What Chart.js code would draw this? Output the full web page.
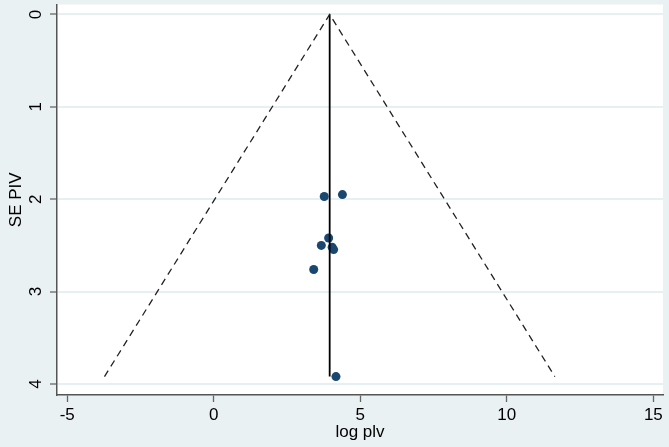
<!DOCTYPE html>
<html>
<head>
<meta charset="utf-8">
<script src="https://cdn.jsdelivr.net/npm/chart.js@4/dist/chart.umd.min.js"></script>
<style>
  html, body { margin: 0; padding: 0; background: #eaf1f3; }
  #wrap { width: 669px; height: 447px; }
</style>
</head>
<body>
<div id="wrap"><canvas id="c" width="669" height="447"></canvas></div>
<script>
// Study estimates (log plv) and their standard errors (SE PIV)
const logPlv = [3.77, 4.39, 3.92, 3.67, 4.04, 4.09, 3.41, 4.17];
const sePiv  = [1.97, 1.95, 2.42, 2.50, 2.52, 2.545, 2.76, 3.92];
// Pooled estimate line
const pooledX = [3.955, 3.955];
const pooledY = [0, 3.92];
// Pseudo 95% confidence limits (funnel)
const funnelX = [-3.73, 3.955, 11.64];
const funnelY = [3.92, 0, 3.92];
// Axis ticks
const xTicks = [-5, 0, 5, 10, 15];
const yTicks = [0, 1, 2, 3, 4];

const toPts = (xs, ys) => xs.map((x, i) => ({x: x, y: ys[i]}));

const plotBg = {
  id: 'plotBg',
  beforeDraw(chart) {
    const {ctx, chartArea: a} = chart;
    ctx.save();
    ctx.fillStyle = '#ffffff';
    ctx.fillRect(a.left, a.top, a.right - a.left, a.bottom - a.top);
    ctx.restore();
  }
};

const FONT = '"Liberation Sans", Arial, sans-serif';

new Chart(document.getElementById('c'), {
  type: 'scatter',
  data: {
    datasets: [
      {
        label: 'funnel',
        data: toPts(funnelX, funnelY),
        showLine: true,
        borderColor: '#222222',
        borderWidth: 1.3,
        borderDash: [7, 5],
        pointRadius: 0,
        fill: false
      },
      {
        label: 'pooled',
        data: toPts(pooledX, pooledY),
        showLine: true,
        borderColor: '#000000',
        borderWidth: 1.8,
        pointRadius: 0,
        fill: false
      },
      {
        label: 'studies',
        data: toPts(logPlv, sePiv),
        backgroundColor: '#1a476f',
        borderColor: '#1a476f',
        pointRadius: 4.5,
        pointBorderWidth: 0
      }
    ]
  },
  options: {
    responsive: false,
    animation: false,
    devicePixelRatio: 1,
    layout: { padding: { top: 3, right: 6, left: 0, bottom: 0 } },
    plugins: { legend: { display: false }, tooltip: { enabled: false } },
    scales: {
      x: {
        type: 'linear',
        min: -5.35,
        max: 15.33,
        afterBuildTicks: ax => { ax.ticks = xTicks.map(v => ({value: v})); },
        afterFit: ax => { ax.height = 52; ax.paddingLeft = 0; ax.paddingRight = 0; },
        grid: { display: true, drawOnChartArea: false, drawTicks: true, tickLength: 7, tickColor: '#666666', tickWidth: 1.3 },
        border: { display: true, color: '#555555', width: 1.5 },
        ticks: { color: '#000000', font: { family: FONT, size: 17 }, padding: 3, maxRotation: 0 },
        title: { display: true, text: 'log plv', color: '#000000', font: { family: FONT, size: 17 }, padding: { top: 0, bottom: 4 } }
      },
      y: {
        type: 'linear',
        reverse: true,
        min: -0.108,
        max: 4.119,
        afterBuildTicks: ax => { ax.ticks = yTicks.map(v => ({value: v})); },
        afterFit: ax => { ax.width = 57; ax.paddingTop = 0; ax.paddingBottom = 0; },
        grid: { display: true, drawOnChartArea: true, color: '#e6eff1', lineWidth: 2, drawTicks: true, tickLength: 7, tickColor: '#666666', tickWidth: 1.3 },
        border: { display: true, color: '#555555', width: 1.5 },
        ticks: { color: '#000000', font: { family: FONT, size: 17 }, padding: 9, minRotation: 90, maxRotation: 90, crossAlign: 'center' },
        title: { display: true, text: 'SE PIV', color: '#000000', font: { family: FONT, size: 17 }, padding: { top: 6, bottom: 0 } }
      }
    }
  },
  plugins: [plotBg]
});
</script>
</body>
</html>
